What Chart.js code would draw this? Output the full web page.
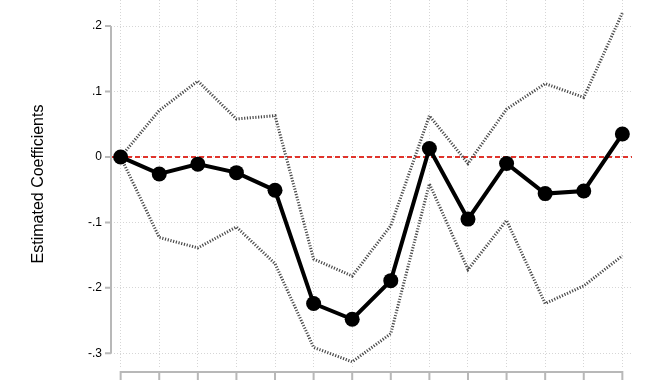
<!DOCTYPE html>
<html>
<head>
<meta charset="utf-8">
<script src="https://cdn.jsdelivr.net/npm/chart.js@4.4.1/dist/chart.umd.min.js"></script>
<style>
  body { margin: 0; background: #fff; }
  #wrap { width: 670px; height: 380px; position: relative; }
</style>
</head>
<body>
<div id="wrap"><canvas id="grafico_coef"></canvas></div>
<script>
// periodos e coeficientes estimados (com intervalo de confiança)
const periodos = [1, 2, 3, 4, 5, 6, 7, 8, 9, 10, 11, 12, 13, 14]
const coeficientes = [0, -0.026, -0.011, -0.024, -0.051, -0.224, -0.248, -0.189, 0.013, -0.095, -0.010, -0.056, -0.052, 0.035]
const ic_superior = [0, 0.071, 0.116, 0.058, 0.063, -0.156, -0.182, -0.105, 0.063, -0.010, 0.073, 0.112, 0.091, 0.220]
const ic_inferior = [0, -0.123, -0.139, -0.107, -0.163, -0.291, -0.313, -0.270, -0.041, -0.172, -0.097, -0.224, -0.197, -0.151]
const yTicks = [-0.3, -0.2, -0.1, 0, 0.1, 0.2]
const yTickLabels = ['-.3', '-.2', '-.1', '0', '.1', '.2']
const linhaReferencia = 0

const fonte = "'Liberation Sans', Arial, Helvetica, sans-serif"

function pontos(vals) {
    return periodos.map((p, i) => ({ x: p, y: vals[i] }))
}

// eixos no estilo stata (linha só entre o primeiro e o último tick)
const eixosPlugin = {
    id: 'eixos',
    beforeDatasetsDraw(chart) {
        const ctx = chart.ctx
        const area = chart.chartArea
        const y0 = chart.scales.y.getPixelForValue(linhaReferencia)
        ctx.save()
        ctx.strokeStyle = '#e0342c'
        ctx.lineWidth = 2
        ctx.setLineDash([5, 3])
        ctx.beginPath()
        ctx.moveTo(area.left, y0)
        ctx.lineTo(area.right, y0)
        ctx.stroke()
        ctx.restore()
    },
    afterDraw(chart) {
        const ctx = chart.ctx
        const sx = chart.scales.x
        const sy = chart.scales.y
        const area = chart.chartArea
        ctx.save()
        ctx.strokeStyle = '#b8b8b8'
        ctx.lineWidth = 2
        ctx.beginPath()
        // eixo y
        const yTop = sy.getPixelForValue(yTicks[yTicks.length - 1])
        const yBot = sy.getPixelForValue(yTicks[0])
        ctx.moveTo(area.left, yTop)
        ctx.lineTo(area.left, yBot)
        yTicks.forEach(v => {
            const py = sy.getPixelForValue(v)
            ctx.moveTo(area.left, py)
            ctx.lineTo(area.left - 6, py)
        })
        // eixo x
        const xAxisY = area.bottom + 4
        const xl = sx.getPixelForValue(periodos[0])
        const xr = sx.getPixelForValue(periodos[periodos.length - 1])
        ctx.moveTo(xl - 1, xAxisY)
        ctx.lineTo(xr + 1, xAxisY)
        periodos.forEach(p => {
            const px = sx.getPixelForValue(p)
            ctx.moveTo(px, xAxisY)
            ctx.lineTo(px, xAxisY + 10)
        })
        ctx.stroke()
        ctx.restore()
    }
}

const data_coef = {
    datasets: [{
        label: 'Coeficiente',
        data: pontos(coeficientes),
        borderColor: '#000',
        backgroundColor: '#000',
        borderWidth: 4,
        pointRadius: 7.5,
        pointBorderWidth: 0,
        tension: 0,
        order: 0
    }, {
        label: 'IC superior',
        data: pontos(ic_superior),
        borderColor: '#4a4a4a',
        borderWidth: 3,
        borderDash: [1.2, 1.6],
        pointRadius: 0,
        tension: 0,
        order: 1
    }, {
        label: 'IC inferior',
        data: pontos(ic_inferior),
        borderColor: '#4a4a4a',
        borderWidth: 3,
        borderDash: [1.2, 1.6],
        pointRadius: 0,
        tension: 0,
        order: 1
    }]
}

const config_coef = {
    type: 'line',
    data: data_coef,
    plugins: [eixosPlugin],
    options: {
        responsive: true,
        maintainAspectRatio: false,
        animation: false,
        // sem autoPadding: os pontos não empurram a área do gráfico
        layout: { autoPadding: false, padding: { top: 0, right: 38, bottom: 0, left: 0 } },
        plugins: {
            legend: { display: false },
            tooltip: { enabled: false }
        },
        scales: {
            x: {
                type: 'linear',
                min: 0.75,
                max: 14.25,
                afterBuildTicks: (scale) => { scale.ticks = periodos.map(p => ({ value: p })) },
                afterFit: (scale) => { scale.height = 12 },
                ticks: { display: false },
                grid: { color: '#d6d6d6', lineWidth: 1, drawTicks: false },
                border: { display: false, dash: [1, 2] }
            },
            y: {
                min: -0.3225,
                max: 0.2398,
                afterBuildTicks: (scale) => { scale.ticks = yTicks.map(v => ({ value: v })) },
                afterFit: (scale) => {
                    scale.width = 111
                    scale.paddingTop = 0
                    scale.paddingBottom = 0
                },
                ticks: {
                    padding: 0,
                    color: '#000',
                    font: { family: fonte, size: 12 },
                    callback: (v) => yTickLabels[yTicks.indexOf(v)]
                },
                grid: {
                    color: '#d6d6d6',
                    lineWidth: 1,
                    drawTicks: true,
                    tickLength: 9,
                    tickColor: 'rgba(0,0,0,0)'
                },
                border: { display: false, dash: [1, 2] },
                title: {
                    display: true,
                    text: 'Estimated Coefficients',
                    color: '#000',
                    font: { family: fonte, size: 16 },
                    padding: { top: 29, bottom: 0 }
                }
            }
        }
    }
}

const ctx_coef = document.getElementById('grafico_coef')
new Chart(ctx_coef, config_coef)
</script>
</body>
</html>
